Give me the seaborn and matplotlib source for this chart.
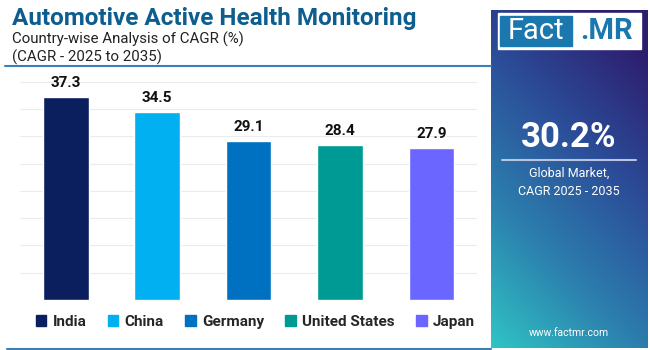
import matplotlib
matplotlib.use("Agg")
import matplotlib.pyplot as plt
from matplotlib.patches import Rectangle
from matplotlib.colors import LinearSegmentedColormap
import seaborn as sns
import numpy as np
import pandas as pd

# chart data
countries = ["India", "China", "Germany", "United States", "Japan"]
cagr = [37.3, 34.5, 29.1, 28.4, 27.9]
colors = ["#0b1f5e", "#00b0f0", "#0070c0", "#009a94", "#6b66ff"]
global_cagr = "30.2%"

df = pd.DataFrame({"country": countries, "cagr": cagr})

sns.set_style("white")
plt.rcParams["font.family"] = ["Roboto", "DejaVu Sans"]

fig = plt.figure(figsize=(6.5, 3.5), dpi=100)
fig.patch.set_facecolor("white")

# main bar chart
ax = fig.add_axes([0.031, 0.143, 0.703, 0.623])
sns.barplot(data=df, x="country", y="cagr", hue="country", palette=colors,
            width=0.5, legend=False, ax=ax, saturation=1)
ax.set_ylim(0, 40)
ax.set_xlim(-0.5, 4.5)
ax.set_yticks(np.arange(0, 41, 5))
ax.yaxis.grid(True, color="#ececec", linewidth=0.8)
ax.set_axisbelow(True)
ax.tick_params(left=False, bottom=False, labelleft=False, labelbottom=False)
ax.set_xlabel("")
ax.set_ylabel("")
for s in ax.spines.values():
    s.set_visible(False)
for c in ax.containers:
    ax.bar_label(c, fmt="%.1f", padding=5, fontsize=11, fontweight="bold",
                 color="#111111", clip_on=False)

# legend
handles = [Rectangle((0, 0), 1, 1, color=col) for col in colors]
fig.legend(handles, countries, loc="center", bbox_to_anchor=(0.393, 0.08),
           ncol=5, frameon=False, handlelength=0.7, handleheight=0.7,
           handletextpad=0.4, columnspacing=1.4,
           prop={"weight": "bold", "size": 11})

# titles
fig.text(0.018, 0.948, "Automotive Active Health Monitoring", fontsize=17.5,
         fontweight="bold", color="#0d5d8e", va="center")
fig.text(0.018, 0.888, "Country-wise Analysis of CAGR (%)", fontsize=10.8,
         color="#222222", va="center")
fig.text(0.018, 0.835, "(CAGR - 2025 to 2035)", fontsize=10.8,
         color="#222222", va="center")
fig.add_artist(plt.Line2D([0.008, 0.755], [0.811, 0.811], color="#3a7fb8",
                          linewidth=1.5))
fig.add_artist(plt.Line2D([0.01, 0.755], [0.004, 0.004], color="#3a7fb8",
                          linewidth=1.5))

# right side panel with gradient
pax = fig.add_axes([0.755, 0.006, 0.241, 0.966])
xx, yy = np.meshgrid(np.linspace(0, 1, 200), np.linspace(0, 1, 400))
t = np.clip(0.75 * yy + 0.35 * xx, 0, 1)
cmap = LinearSegmentedColormap.from_list(
    "panel", ["#30c4c4", "#2c7fae", "#2b4c98", "#2e1d6e"])
pax.imshow(t, cmap=cmap, origin="lower", extent=[0, 1, 0, 1], aspect="auto")
pax.set_xlim(0, 1)
pax.set_ylim(0, 1)
pax.axis("off")

# logo
pax.add_patch(Rectangle((0.045, 0.885), 0.915, 0.105, color="white"))
pax.add_patch(Rectangle((0.06, 0.893), 0.46, 0.089, color="#1a78ae"))
pax.text(0.29, 0.936, "Fact", color="white", fontsize=21, ha="center",
         va="center")
pax.text(0.74, 0.936, ".MR", color="#1a78ae", fontsize=21, ha="center",
         va="center", fontweight="bold")

pax.text(0.5, 0.622, global_cagr, color="white", fontsize=25,
         fontweight="bold", ha="center", va="center")
pax.plot([0.07, 0.93], [0.555, 0.555], color="#b8c4e0", linewidth=1.5)
pax.text(0.5, 0.49, "Global Market,\nCAGR 2025 - 2035", color="white",
         fontsize=9, ha="center", va="center", linespacing=1.5)
pax.text(0.5, 0.045, "www.factmr.com", color="white", fontsize=7.5,
         ha="center", va="center")

fig.savefig("out.png", dpi=100)
